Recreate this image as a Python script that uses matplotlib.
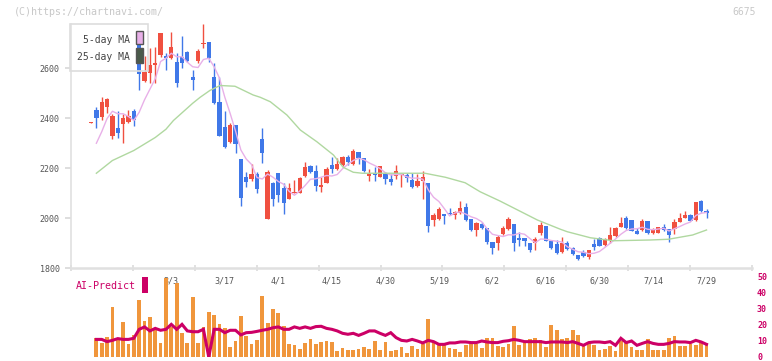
import matplotlib
matplotlib.use("Agg")
import matplotlib.pyplot as plt
from matplotlib.patches import Rectangle
import numpy as np

# ---- data ----
opens = [2381, 2432, 2405, 2445, 2329, 2361, 2375, 2385, 2428, 2696,
         2549, 2581, 2612, 2652, 2649, 2641, 2625, 2645, 2664, 2564,
         2629, 2697, 2703, 2565, 2464, 2365, 2305, 2372, 2236, 2165,
         2155, 2176, 2316, 1996, 2139, 2179, 2119, 2077, 2102, 2101,
         2169, 2209, 2188, 2123, 2141, 2212, 2195, 2212, 2245, 2216,
         2264, 2240, 2169, 2180, 2165, 2176, 2156, 2168, 2171, 2172,
         2152, 2128, 2149, 2141, 1992, 1996, 2016, 2021, 2012, 2021,
         2043, 1996, 1952, 1976, 1959, 1904, 1901, 1936, 1956, 1977,
         1919, 1919, 1901, 1901, 1941, 1968, 1908, 1895, 1865, 1899,
         1881, 1852, 1865, 1843, 1896, 1921, 1892, 1912, 1928, 1965,
         2001, 1992, 1948, 1952, 1988, 1939, 1941, 1963, 1955, 1955,
         1985, 2001, 2013, 1992, 2068, 2028]
highs = [2385, 2443, 2485, 2481, 2416, 2429, 2415, 2432, 2435, 2748,
         2648, 2681, 2685, 2739, 2659, 2745, 2659, 2728, 2668, 2592,
         2675, 2776, 2705, 2621, 2565, 2429, 2381, 2372, 2236, 2185,
         2216, 2185, 2359, 2192, 2145, 2179, 2139, 2139, 2152, 2163,
         2225, 2212, 2212, 2165, 2203, 2245, 2241, 2250, 2252, 2276,
         2264, 2242, 2195, 2203, 2210, 2185, 2176, 2212, 2181, 2179,
         2179, 2175, 2188, 2141, 2019, 2045, 2018, 2041, 2027, 2069,
         2061, 1996, 1983, 1983, 1960, 1904, 1932, 1969, 2005, 1978,
         1943, 1920, 1902, 1923, 1983, 1970, 1909, 1912, 1923, 1908,
         1885, 1853, 1871, 1873, 1915, 1923, 1919, 1965, 1965, 2003,
         2008, 1993, 1961, 1996, 1990, 1959, 1965, 1976, 1957, 1995,
         2021, 2029, 2017, 2065, 2072, 2035]
lows = [2380, 2361, 2392, 2419, 2315, 2319, 2301, 2379, 2368, 2512,
        2545, 2539, 2540, 2645, 2592, 2638, 2523, 2599, 2625, 2512,
        2622, 2679, 2625, 2455, 2329, 2280, 2300, 2261, 2048, 2123,
        2150, 2099, 2219, 1996, 2049, 2065, 2015, 2075, 2099, 2099,
        2165, 2180, 2108, 2105, 2141, 2181, 2192, 2210, 2212, 2214,
        2216, 2183, 2149, 2149, 2163, 2136, 2132, 2155, 2125, 2145,
        2121, 2125, 2076, 1945, 1968, 1992, 1976, 2012, 1996, 2016,
        1990, 1950, 1929, 1958, 1896, 1856, 1872, 1933, 1953, 1868,
        1889, 1888, 1865, 1872, 1932, 1907, 1878, 1856, 1862, 1873,
        1853, 1832, 1846, 1836, 1872, 1887, 1888, 1901, 1925, 1963,
        1955, 1947, 1935, 1950, 1935, 1935, 1940, 1950, 1905, 1936,
        1983, 1999, 1987, 1990, 2025, 2001]
closes = [2385, 2401, 2464, 2475, 2408, 2339, 2401, 2409, 2393, 2575,
          2585, 2612, 2620, 2739, 2641, 2683, 2541, 2619, 2629, 2553,
          2669, 2701, 2641, 2461, 2329, 2285, 2372, 2295, 2081, 2145,
          2176, 2115, 2261, 2185, 2076, 2092, 2061, 2119, 2106, 2161,
          2205, 2185, 2129, 2133, 2196, 2195, 2216, 2245, 2224, 2268,
          2241, 2189, 2179, 2173, 2208, 2156, 2145, 2188, 2175, 2161,
          2125, 2149, 2163, 1968, 2012, 2036, 2009, 2016, 2025, 2040,
          1992, 1952, 1979, 1961, 1903, 1881, 1925, 1961, 1996, 1899,
          1912, 1909, 1872, 1915, 1972, 1909, 1881, 1859, 1901, 1876,
          1856, 1835, 1848, 1872, 1885, 1889, 1915, 1932, 1959, 1981,
          1961, 1949, 1936, 1988, 1939, 1955, 1963, 1952, 1932, 1984,
          2001, 2012, 1989, 2063, 2028, 2019]

# 5-day MA, from the second candle onwards
ma5 = [2299, 2345, 2398, 2427, 2417, 2417, 2406, 2390, 2423, 2473,
       2515, 2557, 2626, 2639, 2659, 2645, 2645, 2623, 2605, 2602,
       2634, 2639, 2605, 2560, 2483, 2418, 2348, 2272, 2236, 2214,
       2162, 2156, 2176, 2163, 2146, 2135, 2107, 2091, 2108, 2130,
       2155, 2157, 2163, 2170, 2168, 2174, 2197, 2215, 2230, 2239,
       2233, 2220, 2210, 2198, 2181, 2172, 2174, 2174, 2165, 2159,
       2160, 2155, 2113, 2083, 2066, 2038, 2008, 2020, 2025, 2016,
       2005, 1998, 1985, 1957, 1935, 1930, 1926, 1933, 1932, 1939,
       1935, 1918, 1901, 1916, 1915, 1910, 1907, 1904, 1885, 1875,
       1865, 1863, 1857, 1859, 1866, 1882, 1899, 1916, 1935, 1950,
       1956, 1957, 1963, 1955, 1953, 1956, 1959, 1948, 1957, 1966,
       1976, 1984, 2010, 2019, 2022]

# 25-day MA, read at these candle positions
ma25_pos = [1, 4, 8, 12, 14, 15.4, 19, 20.4, 22.2, 24.1, 26.9, 30.3, 31.6,
            33.5, 36.6, 39.1, 42.2, 45.3, 47.1, 49, 50.7, 54.6, 62.4, 66.2,
            69.9, 72.7, 76.4, 83.4, 87.7, 89, 93.3, 97.6, 104.5, 107.9,
            112.4, 115]
ma25 = [2179, 2230, 2270, 2322, 2355, 2390, 2459, 2483, 2510, 2530, 2527,
        2492, 2483, 2465, 2412, 2352, 2305, 2252, 2203, 2183, 2179, 2179,
        2179, 2163, 2141, 2105, 2068, 1992, 1955, 1945, 1921, 1909, 1912,
        1915, 1932, 1952]

# AI-Predict panel (bars and line), from the second candle onwards
ai_bars = [11.7, 8.5, 12.3, 31.3, 11.0, 21.9, 7.9, 13.5, 35.6, 22.3,
           25.0, 16.7, 8.5, 49.2, 18.8, 46.0, 14.8, 8.5, 37.3, 8.5,
           18.8, 28.1, 26.0, 20.4, 18.1, 6.3, 10.0, 25.6, 13.1, 7.9,
           10.4, 38.1, 21.0, 29.8, 27.3, 19.4, 7.9, 7.3, 4.8, 8.5,
           11.0, 7.9, 9.4, 9.8, 9.4, 3.5, 5.4, 4.2, 4.2, 4.8,
           6.0, 4.8, 9.8, 4.2, 9.2, 3.5, 4.2, 6.0, 2.3, 6.7,
           4.8, 7.9, 23.5, 9.8, 7.9, 7.9, 5.4, 4.8, 2.9, 7.3,
           7.9, 7.9, 5.4, 11.7, 11.7, 6.7, 6.3, 7.9, 19.2, 7.3,
           8.5, 11.0, 11.7, 10.4, 6.3, 19.8, 16.7, 11.0, 11.7, 16.7,
           13.5, 6.7, 8.5, 7.3, 4.2, 4.8, 6.7, 3.5, 9.8, 9.2,
           6.0, 4.2, 4.2, 11.0, 4.2, 4.2, 4.2, 11.7, 13.1, 6.7,
           6.7, 7.9, 7.3, 8.5, 8.5]
ai_line = [11.0, 11.0, 9.6, 10.4, 11.5, 11.0, 11.0, 11.7, 17.3, 18.8,
           16.3, 17.9, 16.7, 17.3, 20.4, 17.3, 20.4, 16.3, 15.8, 15.8,
           17.3, 0.0, 17.3, 17.3, 15.2, 16.7, 16.7, 13.8, 15.2, 15.4,
           16.0, 16.7, 17.3, 18.3, 18.8, 17.3, 17.3, 18.8, 17.9, 18.8,
           17.9, 19.0, 19.2, 17.9, 17.3, 16.3, 14.8, 14.2, 14.8, 13.5,
           14.8, 16.3, 16.3, 14.8, 13.5, 15.2, 12.1, 10.4, 10.0, 11.0,
           10.0, 8.8, 10.4, 9.6, 7.9, 7.9, 8.8, 8.8, 9.4, 9.4,
           9.0, 9.0, 10.0, 9.4, 9.0, 9.0, 9.8, 10.2, 11.0, 10.4,
           9.6, 9.6, 9.6, 9.6, 9.0, 9.4, 9.4, 9.4, 9.0, 9.6,
           8.5, 7.3, 9.0, 9.4, 9.4, 9.0, 9.6, 7.3, 11.7, 9.0,
           10.0, 7.3, 8.5, 9.6, 8.5, 7.9, 7.9, 8.5, 9.6, 9.4,
           9.4, 9.0, 10.4, 9.4, 7.9]

date_labels = ["3/3", "3/17", "4/1", "4/15", "4/30", "5/19",
               "6/2", "6/16", "6/30", "7/14", "7/29"]
date_pos = [15, 25, 35, 45, 55, 65, 75, 85, 95, 105, 115]

UP, DOWN = "#f05040", "#4078e8"
PINK, GREEN = "#e8b0e8", "#b0d8a0"
CRIMSON, ORANGE = "#cc0066", "#f0963c"
MONO = "DejaVu Sans Mono"

W, H = 772, 361


def fbox(x0, y0, x1, y1):
    """pixel box (top-left origin) -> figure-fraction rect"""
    return [x0 / W, 1 - y1 / H, (x1 - x0) / W, (y1 - y0) / H]


fig = plt.figure(figsize=(W / 100, H / 100), dpi=100)
xlim = (-3.74, 123.5)

# ---- price panel ----
ax = fig.add_axes(fbox(71, 24, 752, 268))
n = len(closes)
idx = np.arange(n)
cols = [UP if c >= o else DOWN for o, c in zip(opens, closes)]
ax.vlines(idx, lows, highs, colors=cols, linewidth=1, zorder=2)
bottoms = [min(o, c) for o, c in zip(opens, closes)]
heights = [max(abs(c - o), 4) for o, c in zip(opens, closes)]
ax.bar(idx, heights, bottom=bottoms, width=0.8, color=cols, linewidth=0, zorder=3)
ax.plot(idx[1:], ma5, color=PINK, linewidth=1, zorder=4)
ax.plot(ma25_pos, ma25, color=GREEN, linewidth=1, zorder=4)

ax.set_xlim(*xlim)
ax.set_ylim(1800, 2776)
ax.set_yticks([1800, 2000, 2200, 2400, 2600])
ax.set_xticks(np.linspace(xlim[0], xlim[1], 12))
ax.set_xticklabels([])
ax.tick_params(axis="y", direction="out", length=4.5, width=1.2, color="#d8d8d8",
               labelsize=6, labelcolor="#555555", pad=3.5)
ax.tick_params(axis="x", direction="inout", length=4, width=1.2, color="#dcdcdc")
for lab in ax.get_yticklabels():
    lab.set_family(MONO)
ax.spines[["top", "right"]].set_visible(False)
ax.spines["left"].set_color("#e0e0e0")
ax.spines["left"].set_linewidth(1.2)
ax.spines["bottom"].set_color("#e0e0e0")
ax.spines["bottom"].set_linewidth(1.8)

# legend box drawn by hand
fig.add_artist(Rectangle((70 / W, 1 - 71 / H), 78 / W, 47 / H, transform=fig.transFigure,
                         facecolor="none", edgecolor="#dddddd", linewidth=1.2, zorder=5))
fig.add_artist(Rectangle((136 / W, 1 - 44 / H), 7 / W, 13 / H, transform=fig.transFigure,
                         facecolor=PINK, edgecolor="#555555", linewidth=1, zorder=6))
fig.add_artist(Rectangle((136 / W, 1 - 63 / H), 7 / W, 15 / H, transform=fig.transFigure,
                         facecolor="#4a5a4a", edgecolor="#555555", linewidth=1, zorder=6))
fig.text(130 / W, 1 - 40 / H, "5-day MA", ha="right", va="center", fontsize=7,
         family=MONO, color="#444444", zorder=6)
fig.text(130 / W, 1 - 57 / H, "25-day MA", ha="right", va="center", fontsize=7,
         family=MONO, color="#444444", zorder=6)

# ---- AI-Predict panel ----
ax2 = fig.add_axes(fbox(71, 277, 752, 357))
ax2.bar(idx[1:], ai_bars, width=0.7, color=ORANGE, linewidth=0, zorder=2)
ax2.plot(idx[1:], ai_line, color=CRIMSON, linewidth=2.2, zorder=3,
         solid_joinstyle="miter")
ax2.set_xlim(*xlim)
ax2.set_ylim(0, 50)
ax2.set_xticks([])
ax2.yaxis.tick_right()
ax2.set_yticks([0, 10, 20, 30, 40, 50])
ax2.tick_params(axis="y", length=0, pad=3.6, labelsize=6, labelcolor=CRIMSON)
for lab in ax2.get_yticklabels():
    lab.set_family(MONO)
    lab.set_fontweight("bold")
    lab.set_verticalalignment("center_baseline")
for s in ax2.spines.values():
    s.set_visible(False)
ax2.patch.set_alpha(0)

for p, lab in zip(date_pos, date_labels):
    ax2.text(p, 47.5, lab, ha="center", va="center", fontsize=6, family=MONO,
             color="#555555", zorder=1, clip_on=False)

fig.text(76 / W, 1 - 286 / H, "AI-Predict", ha="left", va="center", fontsize=7.2,
         family=MONO, color=CRIMSON)
fig.add_artist(Rectangle((142 / W, 1 - 293 / H), 6 / W, 16 / H, transform=fig.transFigure,
                         facecolor=CRIMSON, edgecolor="none"))

# header texts
fig.text(14 / W, 1 - 12 / H, "(C)https://chartnavi.com/", ha="left", va="center",
         fontsize=7.2, family=MONO, color="#c8c8c8")
fig.text(756 / W, 1 - 12 / H, "6675", ha="right", va="center",
         fontsize=7, family=MONO, color="#c8c8c8")

fig.savefig("out.png", dpi=100)
